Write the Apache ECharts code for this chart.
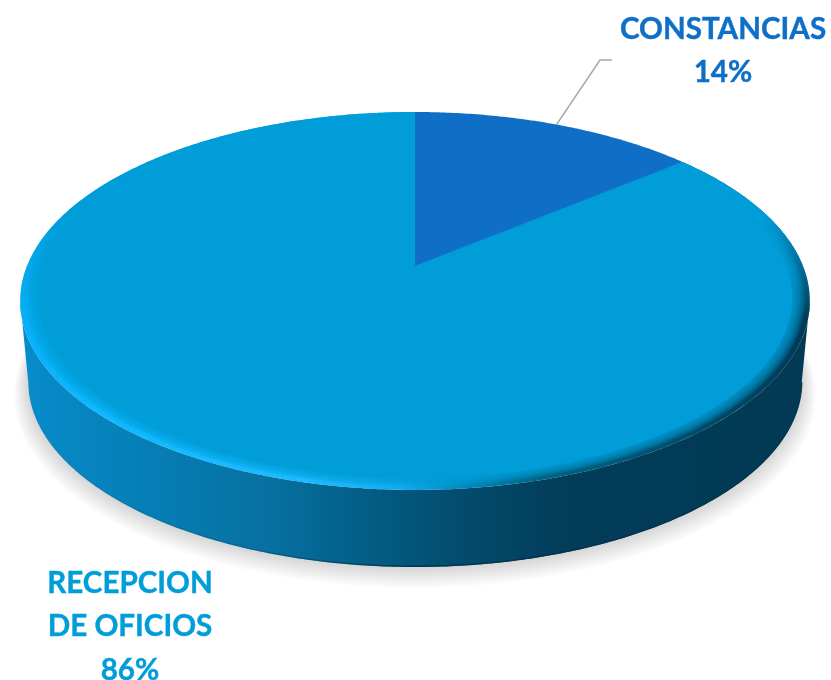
<!DOCTYPE html>
<html>
<head>
<meta charset="utf-8">
<style>
  html, body { margin: 0; padding: 0; background: #fff; }
  #main { width: 831px; height: 680px; }
</style>
</head>
<body>
<div id="main"></div>
<script src="https://cdn.jsdelivr.net/npm/echarts@6/dist/echarts.min.js"></script>
<script>
const categories = ["CONSTANCIAS", "RECEPCION\nDE OFICIOS"];
const values = [14, 86];
const sliceColors = ["#0F6FC6", "#009DD9"];

// where the labels sit, by slice
const labelPos = [
  { x: 723, y: 51, elbow: [600, 60], end: [612, 60] },
  { x: 130, y: 626.5 }
];

// tilted disc: projection of the unit circle with some perspective
const apexX = 415, apexY = 266;
const scaleX = 388, scaleY = 182.5, persp = -0.185;
const depth = 82.5;
const total = values.reduce((a, b) => a + b, 0);
const frontFrom = Math.PI / 2 + Math.asin(-persp);
const frontTo = 2 * Math.PI - frontFrom;

function project(r, t, dy) {
  const u = r * Math.sin(t), v = -r * Math.cos(t);
  const w = 1 + persp * v;
  return [apexX + scaleX * u / w, apexY + scaleY * v / w + (dy || 0)];
}

function arc(r, t1, t2, dy) {
  const n = Math.max(2, Math.ceil(Math.abs(t2 - t1) / 0.01));
  const pts = [];
  for (let i = 0; i <= n; i++) pts.push(project(r, t1 + (t2 - t1) * i / n, dy));
  return pts;
}

function poly(points, style, z2) {
  return { type: "polygon", shape: { points: points }, style: style, z2: z2, silent: true };
}

const wallFill = {
  type: "linear", x: 19, y: 0, x2: 810, y2: 0, global: true,
  colorStops: [
    { offset: 0, color: "#088ccb" },
    { offset: 0.12, color: "#0682bb" },
    { offset: 0.33, color: "#066f9f" },
    { offset: 0.46, color: "#035a80" },
    { offset: 0.58, color: "#03496a" },
    { offset: 0.7, color: "#023c58" },
    { offset: 1, color: "#023a55" }
  ]
};
const wallEdge = {
  type: "linear", x: 19, y: 0, x2: 810, y2: 0, global: true,
  colorStops: [
    { offset: 0, color: "rgba(2,58,85,0)" },
    { offset: 0.3, color: "rgba(2,58,85,0.25)" },
    { offset: 0.5, color: "rgba(2,50,75,0.9)" },
    { offset: 1, color: "rgba(2,50,75,0.9)" }
  ]
};
const rimFill = {
  type: "linear", x: 19, y: 0, x2: 810, y2: 0, global: true,
  colorStops: [
    { offset: 0, color: "#06b0f8" },
    { offset: 0.1, color: "#10b8ff" },
    { offset: 0.36, color: "#1cbcff" },
    { offset: 0.48, color: "#10acf0" },
    { offset: 0.56, color: "#008cc0" },
    { offset: 0.66, color: "#006488" },
    { offset: 1, color: "#003a55" }
  ]
};
const rimCover = {
  type: "linear", x: 0, y: 215, x2: 0, y2: 320, global: true,
  colorStops: [
    { offset: 0, color: "rgba(0,157,217,1)" },
    { offset: 1, color: "rgba(0,157,217,0)" }
  ]
};

function renderSlice(params, api) {
  const idx = params.dataIndex;
  const before = values.slice(0, idx).reduce((a, b) => a + b, 0);
  const t1 = before / total * 2 * Math.PI;
  const t2 = (before + api.value(1)) / total * 2 * Math.PI;
  const color = sliceColors[idx];
  const apex = [apexX, apexY];
  const kids = [];

  const wFrom = Math.max(t1, frontFrom), wTo = Math.min(t2, frontTo);
  const hasWall = wFrom < wTo;

  if (hasWall) {
    // soft shadow on the floor, stacked thin layers
    for (let k = 10; k >= 1; k--) {
      kids.push(poly(arc(0.98 + k * 0.0035, 0, 2 * Math.PI, depth + k * 1.1), {
        fill: "rgba(0,0,0,0.014)"
      }, 1));
    }
    const top = arc(1, wFrom, wTo);
    const bottom = arc(0.98, wTo, wFrom, depth);
    kids.push(poly(top.concat(bottom), { fill: wallFill }, 2));
    kids.push({
      type: "polyline", z2: 3, silent: true,
      shape: { points: arc(0.98, wTo, wFrom, depth - 0.7) },
      style: { fill: "none", stroke: wallEdge, lineWidth: 1.5 }
    });
    // bevel round the rim, then the flat face over it with a soft edge
    const face = r => [apex].concat(arc(r, t1, t2));
    kids.push(poly(face(1), { fill: rimFill }, 4));
    kids.push(poly(face(1), { fill: rimCover }, 5));
    [0.987, 0.982, 0.977, 0.972, 0.967, 0.962].forEach((r, k) => {
      kids.push(poly(face(r), { fill: color, opacity: 0.24 }, 6 + k * 0.01));
    });
    kids.push(poly(face(0.957), { fill: color }, 7));
  } else {
    kids.push(poly([apex].concat(arc(1, t1, t2)), { fill: color }, 8));
  }

  const pos = labelPos[idx];
  if (pos.elbow) {
    const from = project(1, (t1 + t2) / 2);
    kids.push({
      type: "polyline", z2: 9, silent: true,
      shape: { points: [from, pos.elbow, pos.end] },
      style: { fill: "none", stroke: "#a6a6a6", lineWidth: 1.5 }
    });
  }
  kids.push({
    type: "text", z2: 10, silent: true, x: pos.x, y: pos.y,
    style: {
      text: categories[idx] + "\n" + Math.round(api.value(1) / total * 100) + "%",
      fill: color,
      stroke: color,
      lineWidth: 0.4,
      font: "700 29.6px Lato",
      lineHeight: 43.5,
      align: "center",
      verticalAlign: "middle"
    }
  });
  return { type: "group", children: kids };
}

const mc = echarts.init(document.getElementById("main"), null, { renderer: "canvas" });
mc.setOption({
  backgroundColor: "#ffffff",
  animation: false,
  series: [
    {
      type: "custom",
      coordinateSystem: "none",
      renderItem: renderSlice,
      data: categories.map((c, i) => [c, values[i]])
    }
  ]
});
</script>
</body>
</html>
